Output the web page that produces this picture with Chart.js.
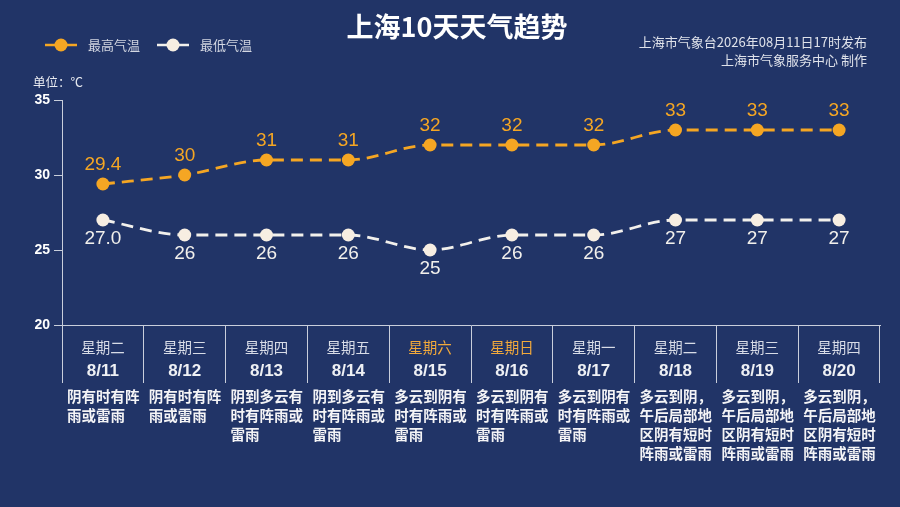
<!DOCTYPE html>
<html><head><meta charset="utf-8">
<script src="https://cdn.jsdelivr.net/npm/chart.js@4/dist/chart.umd.min.js"></script>
<style>html,body{margin:0;padding:0;background:#213467;}#wrap{width:900px;height:507px;position:relative}</style>
</head><body><div id="wrap"><canvas id="c"></canvas></div>
<script>
const dates = ['8/11','8/12','8/13','8/14','8/15','8/16','8/17','8/18','8/19','8/20'];
const weekdays = ['星期二','星期三','星期四','星期五','星期六','星期日','星期一','星期二','星期三','星期四'];
const highTemps = [29.4,30,31,31,32,32,32,33,33,33];
const lowTemps = [27.0,26,26,26,25,26,26,27,27,27];
const highLabels = ['29.4','30','31','31','32','32','32','33','33','33'];
const lowLabels = ['27.0','26','26','26','25','26','26','27','27','27'];
const weatherDesc = [
  '阴有时有阵雨或雷雨',
  '阴有时有阵雨或雷雨',
  '阴到多云有时有阵雨或雷雨',
  '阴到多云有时有阵雨或雷雨',
  '多云到阴有时有阵雨或雷雨',
  '多云到阴有时有阵雨或雷雨',
  '多云到阴有时有阵雨或雷雨',
  '多云到阴，午后局部地区阴有短时阵雨或雷雨',
  '多云到阴，午后局部地区阴有短时阵雨或雷雨',
  '多云到阴，午后局部地区阴有短时阵雨或雷雨'
];
const seriesNames = ['最高气温','最低气温'];
const titleText = '上海10天天气趋势';
const sourceLines = ['上海市气象台2026年08月11日17时发布','上海市气象服务中心 制作'];
const unitText = '单位：℃';

const ORANGE = '#f5a623';
const WHITE = '#f2f0ec';
const POINT_WHITE = '#f7eee2';
const LINE = '#c9cedb';
const CJK = '"Noto Sans CJK SC", sans-serif';
const NUM = '"Liberation Sans", Arial, sans-serif';
const weekendColor = '#f2a93b';

const overlay = {
  id: 'overlay',
  afterDatasetsDraw(chart) {
    const ctx = chart.ctx;
    ctx.save();
    const mh = chart.getDatasetMeta(0), ml = chart.getDatasetMeta(1);
    ctx.textAlign = 'center';
    ctx.textBaseline = 'middle';
    ctx.font = '19px ' + NUM;
    mh.data.forEach((p, i) => {
      ctx.fillStyle = ORANGE;
      ctx.fillText(highLabels[i], p.x, p.y - 19);
    });
    ml.data.forEach((p, i) => {
      ctx.fillStyle = WHITE;
      ctx.fillText(lowLabels[i], p.x, p.y + 19);
    });
    ctx.restore();
  },
  afterDraw(chart) {
    const ctx = chart.ctx;
    const xs = chart.scales.x;
    ctx.save();
    ctx.fillStyle = '#ffffff';
    ctx.textAlign = 'center';
    ctx.textBaseline = 'middle';
    ctx.font = 'bold 27px ' + CJK;
    ctx.fillText(titleText, 457, 27);
    ctx.textAlign = 'right';
    ctx.font = '13px ' + CJK;
    ctx.fillStyle = '#dfe2ea';
    ctx.fillText(sourceLines[0], 867, 42);
    ctx.fillText(sourceLines[1], 867, 60);
    const leg = [[45, ORANGE, ORANGE], [157, WHITE, POINT_WHITE]];
    leg.forEach((l, i) => {
      const x0 = l[0], y = 45;
      ctx.strokeStyle = l[1];
      ctx.lineWidth = 2.5;
      ctx.beginPath(); ctx.moveTo(x0, y); ctx.lineTo(x0 + 32, y); ctx.stroke();
      ctx.fillStyle = l[2];
      ctx.beginPath(); ctx.arc(x0 + 16, y, 6.5, 0, Math.PI * 2); ctx.fill();
      ctx.fillStyle = '#d3d7e2';
      ctx.textAlign = 'left';
      ctx.font = '13px ' + CJK;
      ctx.fillText(seriesNames[i], x0 + 43, y);
    });
    ctx.fillStyle = '#e8eaf0';
    ctx.font = '12.5px ' + CJK;
    ctx.textAlign = 'left';
    ctx.fillText(unitText, 33, 82);
    const colW = (chart.chartArea.right - chart.chartArea.left) / dates.length;
    dates.forEach((d, i) => {
      const cx = xs.getPixelForValue(i);
      const weekend = weekdays[i] === '星期六' || weekdays[i] === '星期日';
      ctx.textAlign = 'center';
      ctx.font = '14.5px ' + CJK;
      ctx.fillStyle = weekend ? weekendColor : '#d8dce7';
      ctx.fillText(weekdays[i], cx, 347);
      ctx.font = 'bold 17px ' + NUM;
      ctx.fillStyle = '#eef0f4';
      ctx.fillText(d, cx, 371);
      ctx.textAlign = 'left';
      ctx.font = 'bold 14.5px ' + CJK;
      ctx.fillStyle = '#f4f4f6';
      const s = weatherDesc[i];
      const left = cx - colW / 2 + 5;
      for (let k = 0, line = 0; k < s.length; k += 5, line++) {
        ctx.fillText(s.slice(k, k + 5), left, 396 + line * 19);
      }
    });
    ctx.restore();
  }
};

new Chart(document.getElementById('c'), {
  type: 'line',
  data: {
    labels: dates,
    datasets: [
      {
        label: seriesNames[0], data: highTemps,
        borderColor: ORANGE, backgroundColor: ORANGE,
        pointBackgroundColor: ORANGE, pointBorderWidth: 0,
        pointRadius: 6.5, borderWidth: 2.8, borderDash: [12, 7],
        cubicInterpolationMode: 'monotone'
      },
      {
        label: seriesNames[1], data: lowTemps,
        borderColor: WHITE, backgroundColor: POINT_WHITE,
        pointBackgroundColor: POINT_WHITE, pointBorderWidth: 0,
        pointRadius: 6.5, borderWidth: 2.8, borderDash: [12, 7],
        cubicInterpolationMode: 'monotone'
      }
    ]
  },
  options: {
    responsive: true, maintainAspectRatio: false, animation: false,
    devicePixelRatio: 1,
    layout: { padding: { left: 30, right: 20, top: 100, bottom: 0 } },
    plugins: { legend: { display: false }, title: { display: false }, tooltip: { enabled: false } },
    scales: {
      x: {
        type: 'category', offset: true,
        grid: { display: true, offset: true, drawOnChartArea: false, drawTicks: true, tickLength: 58, color: LINE, lineWidth: 1 },
        border: { display: true, color: LINE, width: 1 },
        ticks: { display: false },
        afterFit: s => { s.height = 182; }
      },
      y: {
        min: 20, max: 35,
        ticks: { stepSize: 5, color: '#ffffff', font: { family: NUM, size: 14, weight: 'bold' }, padding: 4 },
        grid: { display: true, drawOnChartArea: false, drawTicks: true, tickLength: 8, color: LINE, lineWidth: 1 },
        border: { display: true, color: LINE, width: 1 },
        afterFit: s => { s.width = 32; }
      }
    }
  },
  plugins: [overlay]
});
</script>
</body></html>
